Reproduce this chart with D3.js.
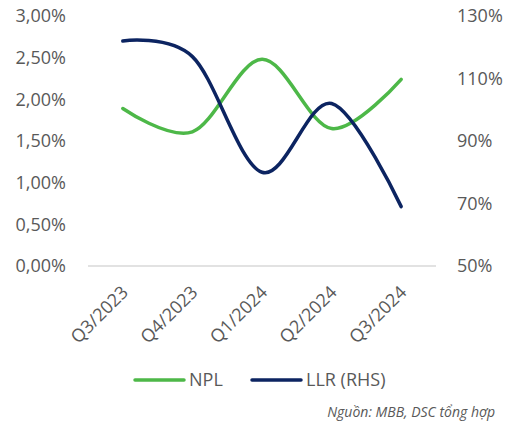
<!DOCTYPE html>
<html>
<head>
<meta charset="utf-8">
<script src="https://cdn.jsdelivr.net/npm/d3@7"></script>
<style>
  body { margin: 0; background: #fff; }
  text { font-family: "Open Sans", sans-serif; fill: #595959; }
</style>
</head>
<body>
<script>
// chart data
var quarters = ["Q3/2023", "Q4/2023", "Q1/2024", "Q2/2024", "Q3/2024"];
var nplValues = [1.89, 1.61, 2.48, 1.65, 2.24];      // % (left axis)
var llrValues = [122, 117, 80, 102, 69];             // % (right axis)
var leftTicks = [0, 0.5, 1, 1.5, 2, 2.5, 3];
var rightTicks = [50, 70, 90, 110, 130];

function main() {
    var width = 505, height = 421;
    var svg = d3.select("body").append("svg")
        .attr("width", width)
        .attr("height", height);

    var x = d3.scaleBand().domain(quarters).range([88, 436]);
    var yL = d3.scaleLinear().domain([0, 3]).range([266, 16]);
    var yR = d3.scaleLinear().domain([50, 130]).range([266, 16]);
    var fmt = function (v) { return v.toFixed(2).replace(".", ",") + "%"; };

    // baseline
    svg.append("line")
        .attr("x1", 88).attr("x2", 436)
        .attr("y1", yL(0)).attr("y2", yL(0))
        .attr("stroke", "#d9d9d9").attr("stroke-width", 1.5);

    // left axis labels
    svg.selectAll(".yl").data(leftTicks).enter().append("text")
        .attr("x", 66).attr("y", function (d) { return yL(d); })
        .attr("dy", "0.35em").attr("text-anchor", "end")
        .style("font-size", "18px")
        .text(fmt);

    // right axis labels
    svg.selectAll(".yr").data(rightTicks).enter().append("text")
        .attr("x", 457).attr("y", function (d) { return yR(d); })
        .attr("dy", "0.35em").attr("text-anchor", "start")
        .style("font-size", "18px")
        .text(function (d) { return d + "%"; });

    // category labels, rotated
    svg.selectAll(".xl").data(quarters).enter().append("text")
        .attr("transform", function (d) {
            return "translate(" + (x(d) + x.bandwidth() / 2 + 2) + ",289) rotate(-45)";
        })
        .attr("text-anchor", "end")
        .attr("dy", "0.35em")
        .style("font-size", "18px")
        .text(function (d) { return d; });

    var cx = function (d, i) { return x(quarters[i]) + x.bandwidth() / 2; };

    var nplLine = d3.line().x(cx).y(function (d) { return yL(d); })
        .curve(d3.curveCardinal.tension(0));
    var llrLine = d3.line().x(cx).y(function (d) { return yR(d); })
        .curve(d3.curveCardinal.tension(0));

    svg.append("path").datum(nplValues)
        .attr("d", nplLine)
        .attr("fill", "none").attr("stroke", "#4db848")
        .attr("stroke-width", 3.5).attr("stroke-linecap", "round");

    svg.append("path").datum(llrValues)
        .attr("d", llrLine)
        .attr("fill", "none").attr("stroke", "#0c2461")
        .attr("stroke-width", 3.5).attr("stroke-linecap", "round");

    // legend
    var legend = [
        { name: "NPL", color: "#4db848", x: 135 },
        { name: "LLR (RHS)", color: "#0c2461", x: 252 }
    ];
    var lg = svg.selectAll(".lg").data(legend).enter().append("g");
    lg.append("line")
        .attr("x1", function (d) { return d.x; })
        .attr("x2", function (d) { return d.x + 49; })
        .attr("y1", 380).attr("y2", 380)
        .attr("stroke", function (d) { return d.color; })
        .attr("stroke-width", 3.5).attr("stroke-linecap", "round");
    lg.append("text")
        .attr("x", function (d) { return d.x + 54; })
        .attr("y", 380).attr("dy", "0.35em")
        .style("font-size", "18px")
        .text(function (d) { return d.name; });

    // source note
    svg.append("text")
        .attr("x", 495).attr("y", 412).attr("dy", "0.35em")
        .attr("text-anchor", "end")
        .style("font-size", "14px").style("font-style", "italic")
        .text("Nguồn: MBB, DSC tổng hợp");
}

window.onload = main();
</script>
</body>
</html>
